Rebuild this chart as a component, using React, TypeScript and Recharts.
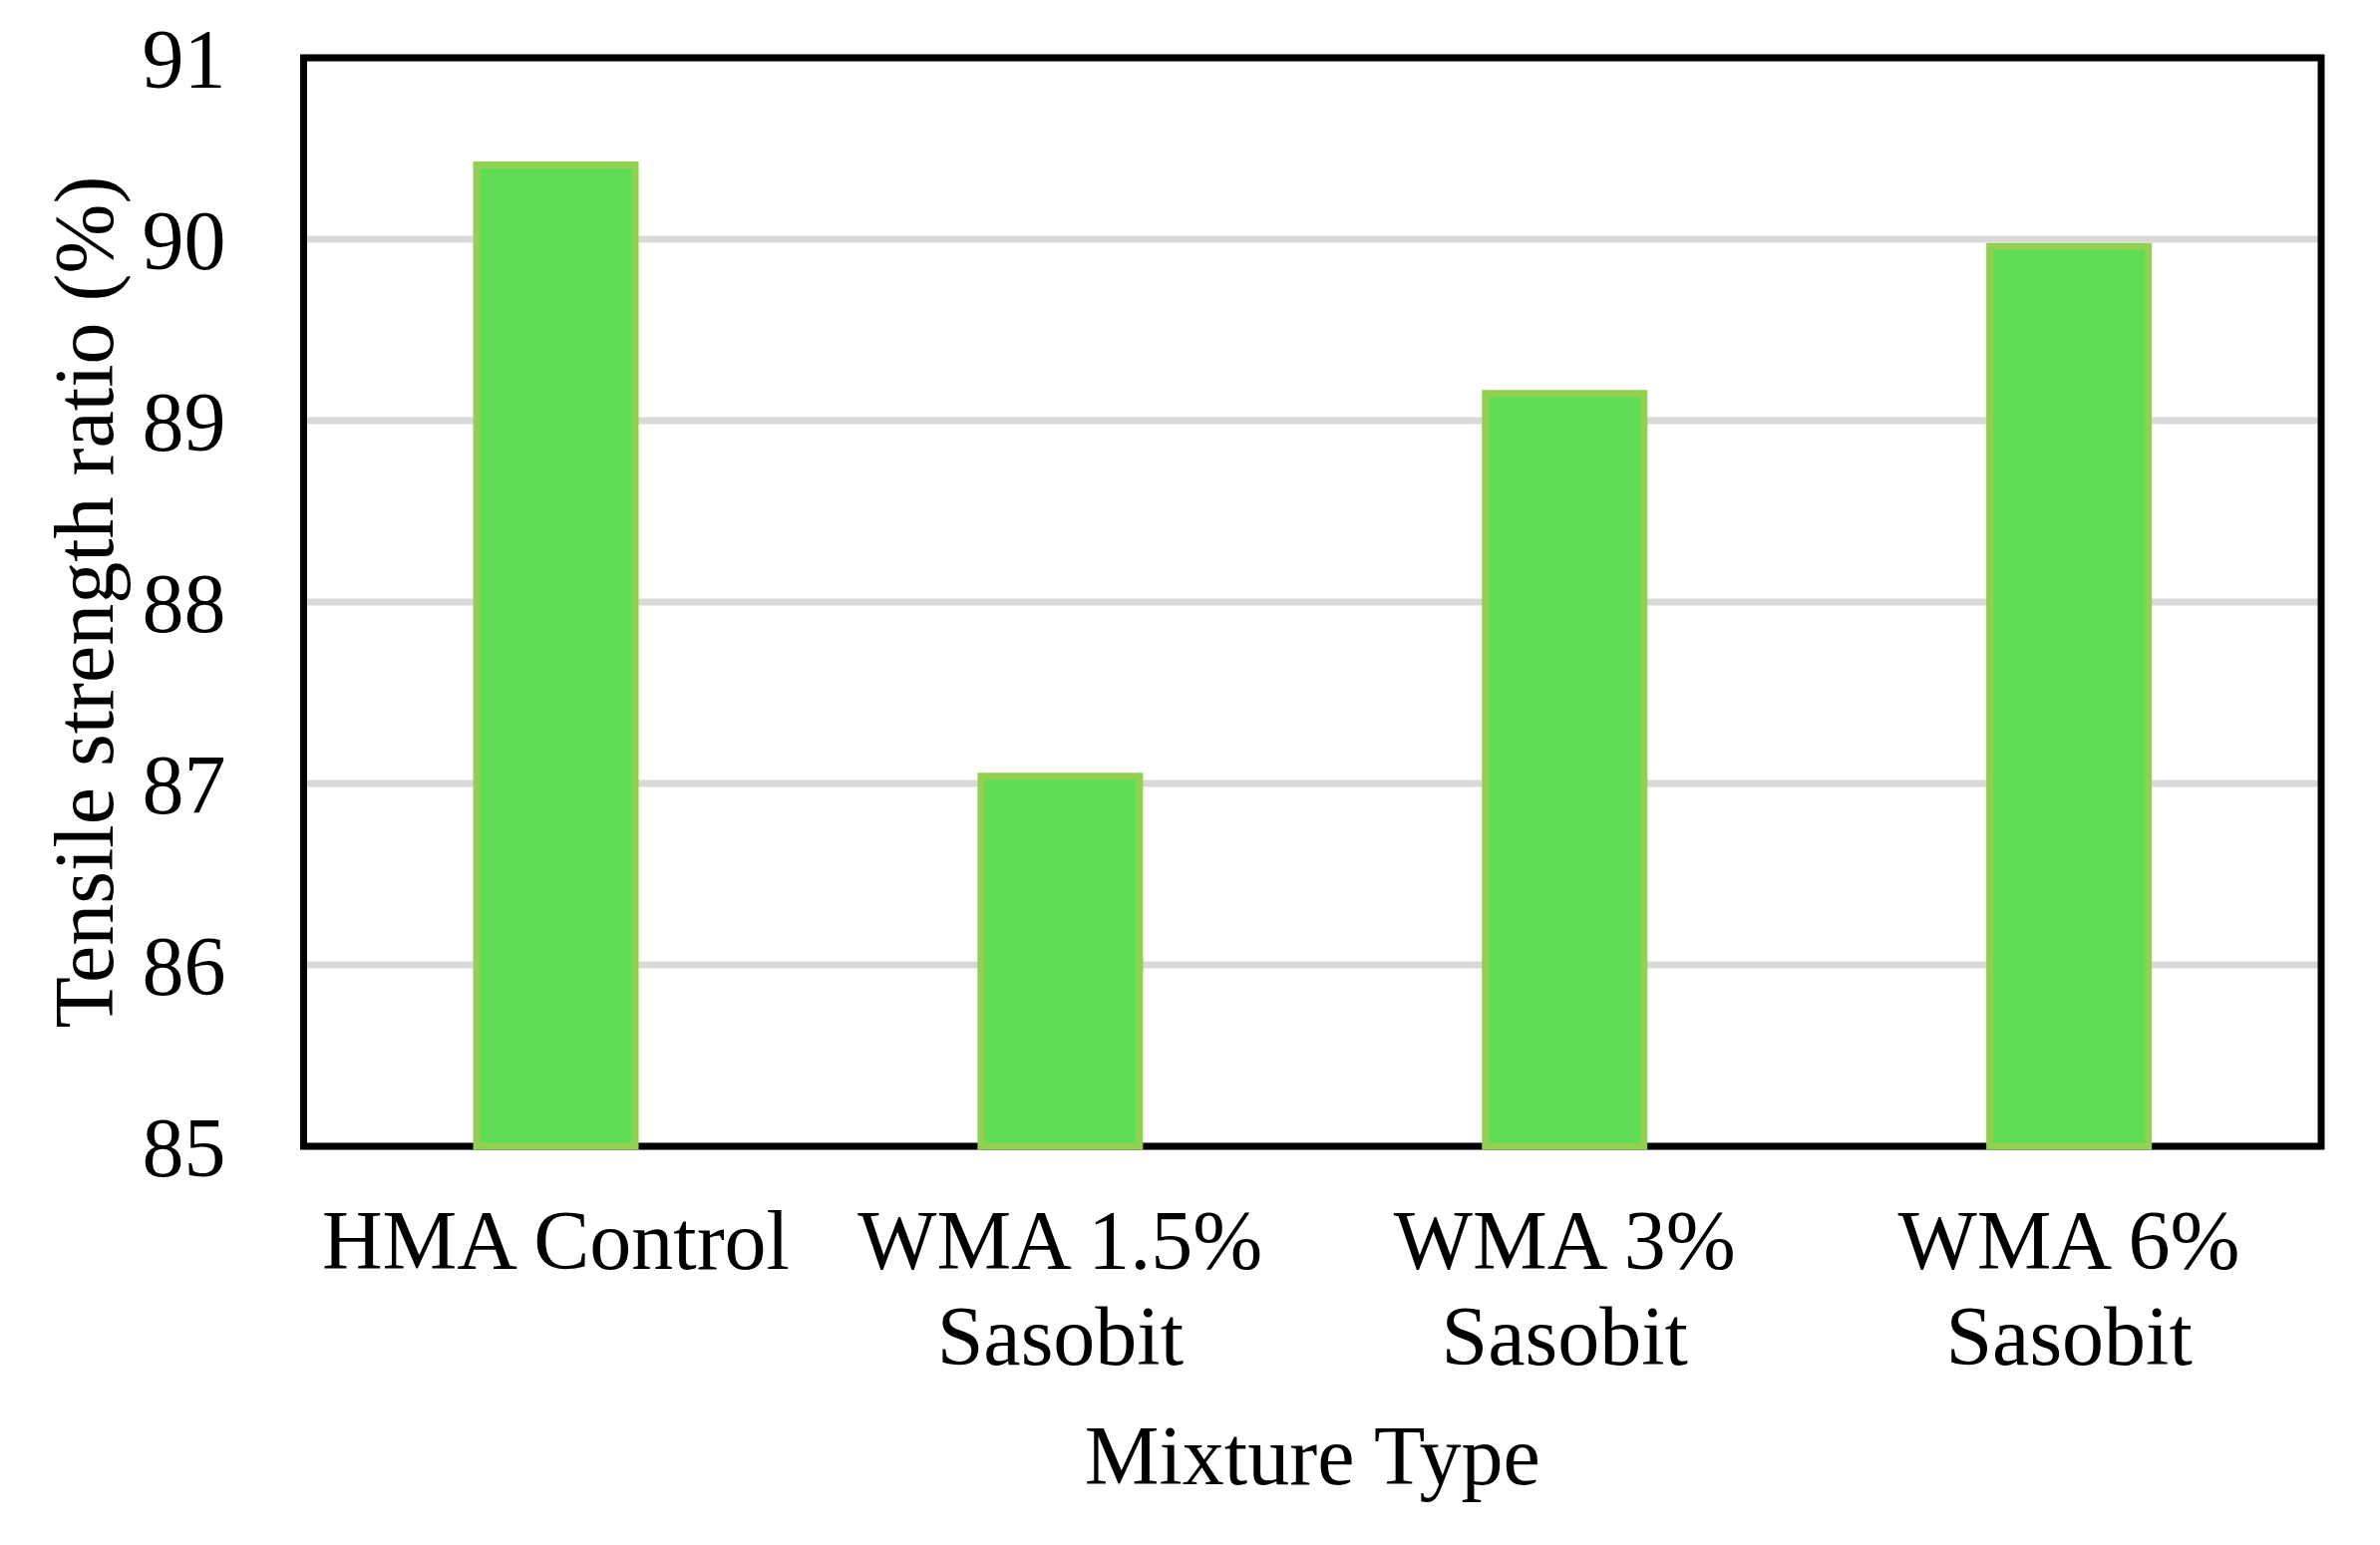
import { BarChart, Bar, XAxis, YAxis, CartesianGrid, ReferenceArea } from 'recharts'

const mixtures = ['HMA Control', 'WMA 1.5%\nSasobit', 'WMA 3%\nSasobit', 'WMA 6%\nSasobit']
const tsrValues = [90.41, 87.04, 89.15, 89.96]
const yTicks = [85, 86, 87, 88, 89, 90, 91]

const data = mixtures.map((name, i) => ({ name, tsr: tsrValues[i] }))

const FONT = '"Liberation Serif", "Times New Roman", serif'
const FS = 84

function MixtureTick({ x, y, payload }: any) {
    const lines = String(payload.value).split('\n')
    return (
        <text x={x} y={y} textAnchor="middle" fontFamily={FONT} fontSize={FS} fill="#000">
            {lines.map((line, i) => (
                <tspan key={i} x={x} y={y + 123 + i * 96}>{line}</tspan>
            ))}
        </text>
    )
}

export default function App() {
    return (
        <div style={{ position: 'absolute', left: 0, top: 0, background: '#fff' }}>
            <BarChart
                width={2387}
                height={1550}
                data={data}
                margin={{ top: 58, right: 59, bottom: 0, left: 104.5 }}
                barCategoryGap="34.3%"
            >
                <CartesianGrid vertical={false} stroke="#D9D9D9" strokeWidth={7} />
                <XAxis
                    dataKey="name"
                    height={400}
                    tickSize={0}
                    tickMargin={0}
                    tick={<MixtureTick />}
                    interval={0}
                    axisLine={false}
                    label={{
                        content: ({ viewBox }: any) => (
                            <text
                                x={viewBox.x + viewBox.width / 2}
                                y={viewBox.y + 339}
                                textAnchor="middle"
                                fontFamily={FONT}
                                fontSize={FS}
                                fill="#000"
                            >
                                Mixture Type
                            </text>
                        ),
                    }}
                />
                <YAxis
                    width={200}
                    domain={[85, 91]}
                    ticks={yTicks}
                    interval={0}
                    tickSize={0}
                    tickMargin={78}
                    tick={{ fontFamily: FONT, fontSize: FS, fill: '#000' }}
                    axisLine={false}
                    label={{
                        content: ({ viewBox }: any) => {
                            const cx = viewBox.x + 8
                            const cy = viewBox.y + viewBox.height / 2
                            return (
                                <text
                                    x={cx}
                                    y={cy}
                                    transform={`rotate(-90, ${cx}, ${cy})`}
                                    textAnchor="middle"
                                    fontFamily={FONT}
                                    fontSize={FS}
                                    fill="#000"
                                >
                                    Tensile strength ratio (%)
                                </text>
                            )
                        },
                    }}
                />
                <Bar
                    dataKey="tsr"
                    fill="#5FDD55"
                    stroke="#92D050"
                    strokeWidth={7}
                    isAnimationActive={false}
                />
                {/* plot frame */}
                <ReferenceArea
                    y1={85}
                    y2={91}
                    fill="none"
                    fillOpacity={0}
                    stroke="#000"
                    strokeWidth={7}
                    strokeOpacity={1}
                    ifOverflow="visible"
                />
            </BarChart>
        </div>
    )
}
